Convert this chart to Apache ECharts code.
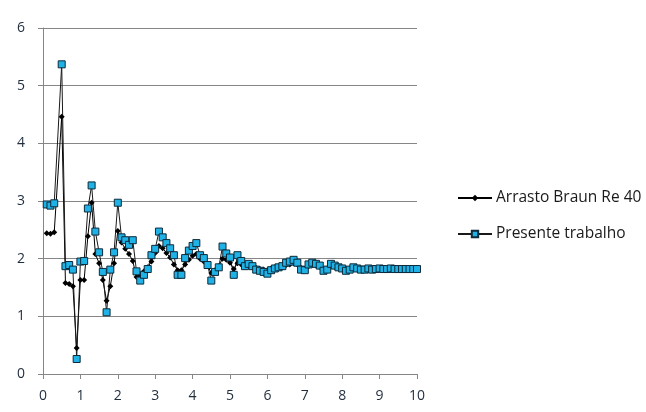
<!DOCTYPE html>
<html>
<head>
<meta charset="utf-8">
<script src="https://cdn.jsdelivr.net/npm/echarts@6/dist/echarts.min.js"></script>
<style>
  html, body { margin: 0; padding: 0; background: #fff; }
  #chart { width: 646px; height: 412px; }
</style>
</head>
<body>
<div id="chart"></div>
<script>
// x positions (~0.1 spacing, no point at 0.4)
const xs = [
  0.1, 0.2, 0.3, 0.5, 0.6, 0.7, 0.8, 0.9, 1.0,
  1.1, 1.2, 1.3, 1.4, 1.5, 1.6, 1.7, 1.8, 1.9, 2.0,
  2.1, 2.2, 2.3, 2.4, 2.5, 2.6, 2.7, 2.8, 2.9, 3.0,
  3.1, 3.2, 3.3, 3.4, 3.5, 3.6, 3.7, 3.8, 3.9, 4.0,
  4.1, 4.2, 4.3, 4.4, 4.5, 4.6, 4.7, 4.8, 4.9, 5.0,
  5.1, 5.2, 5.3, 5.4, 5.5, 5.6, 5.7, 5.8, 5.9, 6.0,
  6.1, 6.2, 6.3, 6.4, 6.5, 6.6, 6.7, 6.8, 6.9, 7.0,
  7.1, 7.2, 7.3, 7.4, 7.5, 7.6, 7.7, 7.8, 7.9, 8.0,
  8.1, 8.2, 8.3, 8.4, 8.5, 8.6, 8.7, 8.8, 8.9, 9.0,
  9.1, 9.2, 9.3, 9.4, 9.5, 9.6, 9.7, 9.8, 9.9, 10.0
];

// Arrasto Braun Re 40
const braun = [
  2.44, 2.43, 2.46, 4.46, 1.58, 1.56, 1.52, 0.45, 1.63,
  1.63, 2.39, 2.97, 2.08, 1.92, 1.63, 1.27, 1.52, 1.92, 2.48,
  2.28, 2.17, 2.08, 1.96, 1.68, 1.72, 1.78, 1.85, 1.95, 2.10,
  2.22, 2.18, 2.10, 2.02, 1.90, 1.80, 1.80, 1.90, 1.98, 2.05,
  2.08, 2.00, 1.95, 1.88, 1.75, 1.80, 1.87, 2.00, 1.98, 1.93,
  1.82, 1.92, 1.90, 1.86, 1.88, 1.86, 1.84, 1.82, 1.81, 1.80,
  1.83, 1.85, 1.86, 1.87, 1.89, 1.90, 1.92, 1.90, 1.84, 1.82,
  1.87, 1.89, 1.88, 1.86, 1.82, 1.83, 1.87, 1.86, 1.85, 1.84,
  1.82, 1.83, 1.84, 1.83, 1.82, 1.82, 1.83, 1.83, 1.83, 1.83,
  1.83, 1.83, 1.83, 1.83, 1.83, 1.83, 1.83, 1.83, 1.83, 1.83
];

// Presente trabalho
const presente = [
  2.94, 2.92, 2.96, 5.37, 1.87, 1.89, 1.81, 0.26, 1.95,
  1.96, 2.87, 3.27, 2.47, 2.11, 1.77, 1.07, 1.81, 2.11, 2.97,
  2.37, 2.32, 2.24, 2.32, 1.78, 1.62, 1.72, 1.82, 2.06, 2.17,
  2.47, 2.37, 2.27, 2.18, 2.06, 1.72, 1.72, 2.01, 2.14, 2.22,
  2.27, 2.06, 2.01, 1.89, 1.62, 1.77, 1.85, 2.21, 2.09, 2.02,
  1.72, 2.06, 1.96, 1.87, 1.91, 1.87, 1.81, 1.79, 1.77, 1.74,
  1.80, 1.83, 1.85, 1.87, 1.93, 1.95, 1.98, 1.93, 1.81, 1.80,
  1.90, 1.93, 1.91, 1.88, 1.79, 1.81, 1.91, 1.88, 1.85, 1.83,
  1.79, 1.81, 1.85, 1.83, 1.81, 1.81, 1.83, 1.81, 1.82, 1.83,
  1.82, 1.82, 1.83, 1.82, 1.82, 1.82, 1.82, 1.82, 1.82, 1.82
];

const xTicks = [0, 1, 2, 3, 4, 5, 6, 7, 8, 9, 10];
const yTicks = [0, 1, 2, 3, 4, 5, 6];

const chart = echarts.init(document.getElementById('chart'));

const axisColor = '#868686';
const labelColor = '#1f2d3d';
const font = 'Open Sans';

const option = {
  animation: false,
  grid: { left: 43, right: 229, top: 28, bottom: 38, containLabel: false },
  legend: {
    orient: 'vertical',
    left: 452,
    top: 185,
    itemGap: 20,
    itemWidth: 34,
    itemHeight: 8,
    textStyle: { fontFamily: font, fontSize: 15.5, color: '#1a1a1a', padding: [0, 0, 0, -1] },
    data: ['Arrasto Braun Re 40', 'Presente trabalho']
  },
  xAxis: {
    type: 'value',
    min: xTicks[0],
    max: xTicks[xTicks.length - 1],
    interval: 1,
    axisLine: { lineStyle: { color: axisColor } },
    axisTick: { show: true, length: 5, lineStyle: { color: axisColor } },
    axisLabel: { fontFamily: font, fontSize: 14, color: labelColor, margin: 15 },
    splitLine: { show: false }
  },
  yAxis: {
    type: 'value',
    min: yTicks[0],
    max: yTicks[yTicks.length - 1],
    interval: 1,
    axisLine: { show: true, lineStyle: { color: axisColor } },
    axisTick: { show: true, length: 5, lineStyle: { color: axisColor } },
    axisLabel: { fontFamily: font, fontSize: 14, color: labelColor, margin: 18 },
    splitLine: { show: true, lineStyle: { color: axisColor, width: 1 } }
  },
  series: [
    {
      name: 'Arrasto Braun Re 40',
      type: 'line',
      data: xs.map((x, i) => [x, braun[i]]),
      symbol: 'diamond',
      symbolSize: 6,
      lineStyle: { color: '#000', width: 1 },
      itemStyle: { color: '#000' }
    },
    {
      name: 'Presente trabalho',
      type: 'line',
      data: xs.map((x, i) => [x, presente[i]]),
      symbol: 'rect',
      symbolSize: 7,
      lineStyle: { color: '#1a1a1a', width: 1 },
      itemStyle: { color: '#1fb2e6', borderColor: '#0d2a3a', borderWidth: 1 }
    }
  ]
};

chart.setOption(option);
</script>
</body>
</html>
